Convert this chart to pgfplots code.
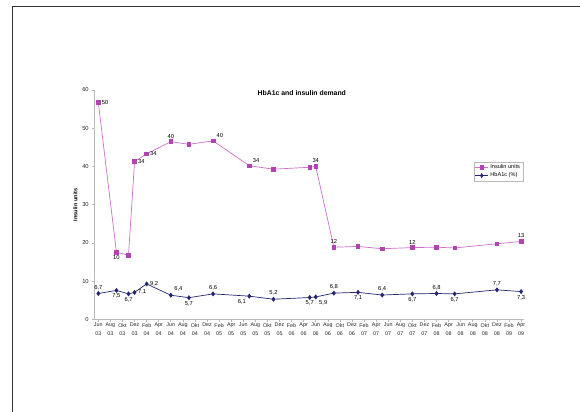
\documentclass[border=0pt]{standalone}
\usepackage{pgfplots}
\pgfplotsset{compat=1.18}
\usepackage{pgfplotstable}
\usepackage{fontspec}
\setmainfont{Liberation Sans}

\definecolor{insline}{RGB}{204,110,204}
\definecolor{insmark}{RGB}{178,68,178}
\definecolor{hbnavy}{RGB}{38,38,112}
\definecolor{axgrey}{RGB}{185,185,185}

\pgfplotstableread{
m ins
0 56.7
3 17.6
5 16.8
6 41.3
8 43.3
12 46.5
15 45.8
19 46.7
25 40.2
29 39.3
35 39.8
36 40.0
39 18.9
43 19.1
47 18.5
52 18.8
56 18.9
59 18.7
66 19.8
70 20.4
}\insdata

\pgfplotstableread{
m hb
0 6.8
3 7.6
5 6.7
6 7.1
8 9.3
12 6.35
15 5.7
19 6.7
25 6.1
29 5.3
35 5.75
36 5.9
39 6.9
43 7.1
47 6.4
52 6.7
56 6.8
59 6.7
66 7.75
70 7.3
}\hbdata

\pgfplotsset{
  lab/.style={forget plot, draw=none, mark=none,
    point meta=explicit symbolic, nodes near coords,
    every node near coord/.append style={anchor=#1, font=\fontsize{5.8}{6.8}\selectfont, text=black, inner sep=3.3bp}},
}

\begin{document}
\begin{tikzpicture}
\path[use as bounding box] (0bp,0bp) rectangle (580bp,412bp);
\draw[line width=1.1bp, black!80] (12.7bp,0bp) -- (12.7bp,405.5bp) -- (580bp,405.5bp);
\begin{axis}[
  at={(94.7bp,92.5bp)}, anchor=south west,
  scale only axis, width=428.8bp, height=229.5bp,
  xmin=-0.6, xmax=70.4, ymin=0, ymax=60,
  axis x line*=bottom, axis y line*=left,
  axis line style={-, draw=axgrey, line width=0.8bp},
  tick style={draw=axgrey, line width=0.6bp},
  tick align=outside, major tick length=2.5bp,
  xtick={0,2,...,70},
  xticklabels={{Jun\\03},{Aug\\03},{Okt\\03},{Dez\\03},{Feb\\04},{Apr\\04},{Jun\\04},{Aug\\04},{Okt\\04},{Dez\\04},{Feb\\05},{Apr\\05},{Jun\\05},{Aug\\05},{Okt\\05},{Dez\\05},{Feb\\06},{Apr\\06},{Jun\\06},{Aug\\06},{Okt\\06},{Dez\\06},{Feb\\07},{Apr\\07},{Jun\\07},{Aug\\07},{Okt\\07},{Dez\\07},{Feb\\08},{Apr\\08},{Jun\\08},{Aug\\08},{Okt\\08},{Dez\\08},{Feb\\09},{Apr\\09}},
  x tick label style={align=center, font=\fontsize{5.4}{8.2}\selectfont, text=black!85, inner sep=1bp},
  ytick={0,10,...,60},
  y tick label style={font=\fontsize{5.8}{6.8}\selectfont, text=black!85},
  /pgf/number format/assume math mode=true,
  ylabel={Insulin units},
  ylabel style={font=\fontsize{5.6}{6.6}\selectfont\bfseries, yshift=-2bp},
  title={HbA1c and insulin demand},
  title style={at={(rel axis cs:0.483,0.962)}, anchor=center, font=\fontsize{6.9}{8}\selectfont\bfseries},
  legend style={at={(rel axis cs:0.999,0.688)}, anchor=north east, font=\fontsize{5.6}{6.6}\selectfont, draw=axgrey, inner sep=1bp, row sep=-1.5bp},
  legend cell align=left,
  legend image post style={xscale=0.75},
  clip=false,
]
\addplot[color=insline, line width=0.7bp, mark=square*, mark size=1.8bp,
  mark options={fill=insmark, draw=insmark}]
  table[x=m, y=ins] {\insdata};
\addlegendentry{Insulin units}
\addplot[color=hbnavy, line width=0.7bp, mark=diamond*, mark size=2bp,
  mark options={fill=hbnavy, draw=hbnavy}]
  table[x=m, y=hb] {\hbdata};
\addlegendentry{HbA1c (\%)}
% insulin labels
\addplot[lab=west] coordinates {(0,56.7) [50] (6,41.3) [34] (8,43.3) [34]};
\addplot[lab=north] coordinates {(3,17.6) [10]};
\addplot[lab=south] coordinates {(12,46.5) [40] (36,40.0) [34] (39,18.9) [12] (52,18.8) [12] (70,20.4) [13]};
\addplot[lab=south west] coordinates {(19,46.7) [40] (25,40.2) [34]};
% HbA1c labels
\addplot[lab=south] coordinates {(0,6.8) [{6,7}] (19,6.7) [{6,6}] (29,5.3) [{5,2}] (39,6.9) [{6,8}] (47,6.4) [{6,4}] (56,6.8) [{6,8}] (66,7.75) [{7,7}]};
\addplot[lab=north] coordinates {(3,7.6) [{7,5}] (5,6.7) [{6,7}] (15,5.7) [{5,7}] (35,5.75) [{5,7}] (43,7.1) [{7,1}] (52,6.7) [{6,7}] (59,6.7) [{6,7}] (70,7.3) [{7,3}]};
\addplot[lab=west] coordinates {(6,7.1) [{7,1}] (8,9.3) [{9,2}]};
\addplot[lab=south west] coordinates {(12,6.35) [{6,4}]};
\addplot[lab=north east] coordinates {(25,6.1) [{6,1}]};
\addplot[lab=north west] coordinates {(36,5.9) [{5,9}]};
\end{axis}
\end{tikzpicture}
\end{document}
